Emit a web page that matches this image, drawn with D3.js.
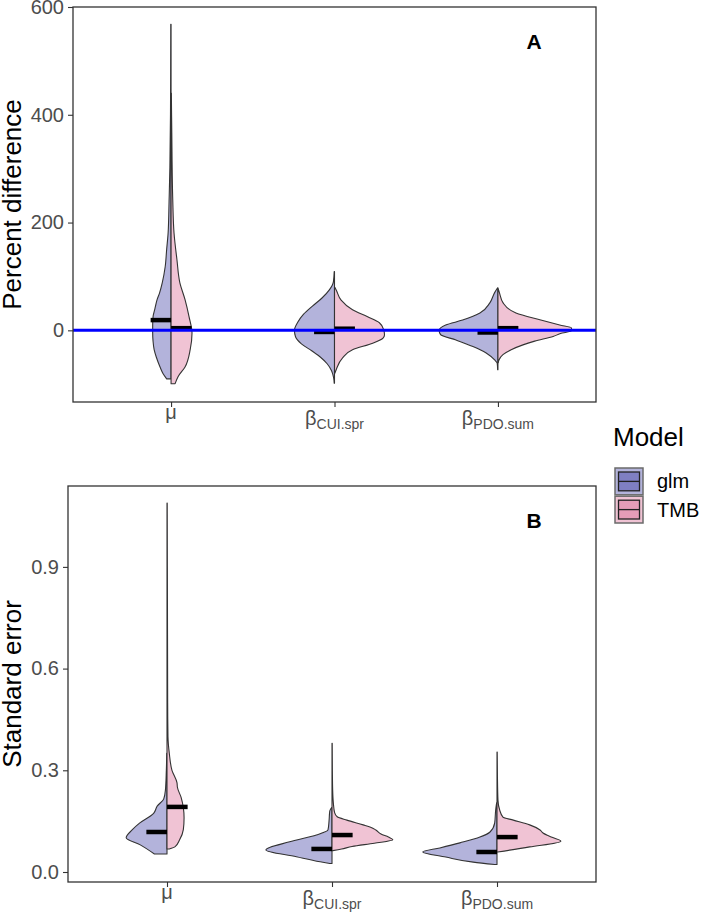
<!DOCTYPE html>
<html lang="en">
<head>
<meta charset="utf-8">
<title>Percent difference and standard error by model</title>
<script src="https://d3js.org/d3.v7.min.js"></script>
<style>
  body { margin: 0; background: #fff; }
  text { font-family: "Liberation Sans", Arial, sans-serif; }
</style>
</head>
<body>
<div id="chart"></div>
<script type="text/javascript">

var w = 701;
var h = 913;

var categories = ["mu", "cui", "pdo"];
var labelBase = ["\u03bc", "\u03b2", "\u03b2"];
var labelSub = ["", "CUI.spr", "PDO.sum"];
var models = ["glm", "TMB"];
var fills = ["#b3b3db", "#f0c3d4"];
var keyInner = ["#7f7fc2", "#e59db8"];

// violin outlines: [value, density relative to widest]
// panel A - percent difference
var pdMuGlm = [[-90, .06], [-80, .11], [-68, .15], [-50, .2], [-36, .23], [-20, .245], [-5, .25], [10, .25],
  [25, .245], [40, .22], [57, .19], [70, .155], [88, .12], [118, .08], [150, .06], [181, .04], [240, .027],
  [303, .016], [400, .008], [568, .004]];
var pdMuTmb = [[-99, .055], [-86, .095], [-68, .19], [-36, .26], [-5, .285], [25, .245], [57, .19], [88, .12],
  [131, .08], [181, .04], [242, .023], [366, .01], [440, .004]];
var pdCuiGlm = [[-98, .004], [-88, .012], [-75, .04], [-62, .1], [-50, .19], [-38, .31], [-25, .45], [-12, .53],
  [0, .545], [15, .5], [30, .42], [45, .3], [60, .17], [75, .07], [90, .015], [109, .004]];
var pdCuiTmb = [[-80, .004], [-73, .023], [-51, .11], [-36, .245], [-24, .52], [-14.5, .66], [-8, .68], [1, .67],
  [14, .61], [25, .45], [38, .245], [56, .09], [75, .023], [80, .004]];
var pdPdoGlm = [[-73, .004], [-61, .01], [-55, .045], [-42, .16], [-30, .34], [-18, .57], [-8, .78], [0, .8],
  [10, .71], [19, .48], [32, .245], [51, .11], [70, .045], [79, .004]];
var pdPdoTmb = [[-60, .004], [-55, .014], [-45, .068], [-36, .18], [-27, .34], [-20, .5], [-11.5, .75], [-6, .85],
  [-1, 1], [4.6, 1], [10, .84], [19.5, .57], [32, .245], [51, .07], [70, .02], [77, .004]];

// panel B - standard error
var seMuGlm = [[.053, .17], [.080, .36], [.101, .55], [.124, .47], [.144, .37], [.173, .18], [.195, .13],
  [.215, .045], [.24, .022], [.30, .009], [.35, .003]];
var seMuTmb = [[.068, .03], [.075, .11], [.095, .17], [.125, .22], [.16, .23], [.19, .22], [.22, .19], [.25, .14],
  [.263, .135], [.30, .067], [.35, .031], [.40, .013], [.5, .009], [.7, .007], [.9, .005], [1.088, .003]];
var seCuiGlm = [[.025, .03], [.030, .16], [.045, .48], [.065, .89], [.089, .57], [.109, .21], [.124, .054],
  [.15, .04], [.18, .03], [.19, .005]];
var seCuiTmb = [[.063, .01], [.068, .13], [.075, .27], [.085, .57], [.095, .82], [.103, .76], [.112, .66],
  [.124, .59], [.132, .52], [.139, .42], [.153, .2], [.163, .07], [.175, .035], [.204, .018], [.242, .009],
  [.3, .005], [.38, .003]];
var sePdoGlm = [[.022, .03], [.029, .32], [.044, .69], [.059, 1], [.071, .77], [.086, .5], [.103, .23],
  [.118, .094], [.145, .031], [.183, .018], [.204, .005]];
var sePdoTmb = [[.059, .01], [.074, .44], [.091, .86], [.103, .73], [.115, .62], [.124, .58], [.139, .44],
  [.153, .22], [.162, .08], [.183, .036], [.212, .013], [.28, .006], [.354, .003]];

var pdMeansGlm = [19, -3, -4];
var pdMeansTmb = [4, 3, 4];
var seMeansGlm = [0.118, 0.068, 0.059];
var seMeansTmb = [0.192, 0.109, 0.103];

var pdTicks = [0, 200, 400, 600];
var seTicks = [0, 0.3, 0.6, 0.9];

var svg = d3.select("#chart")
  .append("svg")
  .attr("width", w)
  .attr("height", h);

drawPanel({
  left: 73, right: 596, top: 7, bottom: 402,
  domain: [-133, 600], ticks: pdTicks, fmt: d3.format("d"),
  violins: [[pdMuGlm, pdCuiGlm, pdPdoGlm], [pdMuTmb, pdCuiTmb, pdPdoTmb]],
  means: [pdMeansGlm, pdMeansTmb],
  title: "Percent difference", tag: "A", hline: true
});
drawPanel({
  left: 68, right: 596, top: 486, bottom: 882,
  domain: [-0.0295, 1.1386], ticks: seTicks, fmt: d3.format(".1f"),
  violins: [[seMuGlm, seCuiGlm, sePdoGlm], [seMuTmb, seCuiTmb, sePdoTmb]],
  means: [seMeansGlm, seMeansTmb],
  title: "Standard error", tag: "B", hline: false
});
drawLegend();

function drawPanel(p) {
  var g = svg.append("g");
  var x = d3.scalePoint().domain(categories).range([p.left, p.right]).padding(0.6);
  var y = d3.scaleLinear().domain(p.domain).range([p.bottom, p.top]);
  var step = x.step();
  var wScale = d3.scaleLinear().domain([0, 1]).range([0, 0.45 * step]);

  // split violins
  models.forEach(function(m, j) {
    var side = j == 0 ? -1 : 1;
    categories.forEach(function(c, i) {
      var area = d3.area()
        .y(function(d) { return y(d[0]); })
        .x0(x(c))
        .x1(function(d) { return x(c) + side * wScale(d[1]); })
        .curve(d3.curveMonotoneY);
      g.append("path")
        .datum(p.violins[j][i])
        .attr("d", area)
        .attr("fill", fills[j])
        .attr("stroke", "#333")
        .attr("stroke-width", 1.1)
        .attr("stroke-linejoin", "round");
    });
  });

  // mean bars
  models.forEach(function(m, j) {
    var side = j == 0 ? -1 : 1;
    g.selectAll(null)
      .data(p.means[j])
      .enter()
      .append("line")
      .attr("x1", function(d, i) { return x(categories[i]); })
      .attr("x2", function(d, i) { return x(categories[i]) + side * 0.125 * step; })
      .attr("y1", function(d) { return y(d); })
      .attr("y2", function(d) { return y(d); })
      .attr("stroke", "#000")
      .attr("stroke-width", 4.5);
  });

  if (p.hline) {
    g.append("line")
      .attr("x1", p.left).attr("x2", p.right)
      .attr("y1", y(0)).attr("y2", y(0))
      .attr("stroke", "#0000ff")
      .attr("stroke-width", 3);
  }

  // frame
  g.append("rect")
    .attr("x", p.left).attr("y", p.top)
    .attr("width", p.right - p.left).attr("height", p.bottom - p.top)
    .attr("fill", "none")
    .attr("stroke", "#333")
    .attr("stroke-width", 1.3);

  // y axis
  var ya = g.append("g")
    .attr("transform", "translate(" + p.left + ",0)")
    .call(d3.axisLeft(y).tickValues(p.ticks).tickFormat(p.fmt).tickSize(5).tickPadding(4));
  ya.select(".domain").remove();
  ya.selectAll(".tick line").attr("stroke", "#333").attr("stroke-width", 1.1);
  ya.selectAll(".tick text")
    .attr("fill", "#4d4d4d")
    .style("font-size", "20px")
    .style("font-family", "'Liberation Sans', Arial, sans-serif");

  // x axis
  var xa = g.append("g")
    .attr("transform", "translate(0," + p.bottom + ")")
    .call(d3.axisBottom(x).tickSize(5).tickFormat(""));
  xa.select(".domain").remove();
  xa.selectAll(".tick line").attr("stroke", "#333").attr("stroke-width", 1.1);

  categories.forEach(function(c, i) {
    var t = g.append("text")
      .attr("x", x(c))
      .attr("y", p.bottom + (labelSub[i] ? 23 : 17))
      .attr("text-anchor", "middle")
      .attr("fill", "#4d4d4d")
      .style("font-size", "20px");
    t.append("tspan").text(labelBase[i]);
    if (labelSub[i]) {
      t.append("tspan")
        .attr("dy", 4)
        .style("font-size", "14px")
        .text(labelSub[i]);
    }
  });

  // axis title
  g.append("text")
    .attr("transform", "translate(21," + ((p.top + p.bottom) / 2) + ") rotate(-90)")
    .attr("text-anchor", "middle")
    .attr("fill", "#000")
    .style("font-size", "26px")
    .text(p.title);

  // panel tag
  g.append("text")
    .attr("x", 534)
    .attr("y", p.top + 41.5)
    .attr("text-anchor", "middle")
    .attr("fill", "#000")
    .style("font-size", "21px")
    .style("font-weight", "bold")
    .text(p.tag);
}

function drawLegend() {
  var lg = svg.append("g");
  lg.append("text")
    .attr("x", 613)
    .attr("y", 446)
    .attr("fill", "#000")
    .style("font-size", "26px")
    .text("Model");

  var keyY = d3.scaleBand().domain(models).range([468, 523]).paddingInner(0.05);

  models.forEach(function(m, j) {
    var y0 = keyY(m);
    var bh = keyY.bandwidth();
    lg.append("rect")
      .attr("x", 615).attr("y", y0)
      .attr("width", 28).attr("height", bh)
      .attr("fill", fills[j])
      .attr("stroke", "#6b6b6b")
      .attr("stroke-width", 1.5);
    lg.append("rect")
      .attr("x", 618.5).attr("y", y0 + 4)
      .attr("width", 21).attr("height", bh - 8)
      .attr("fill", keyInner[j])
      .attr("stroke", "#222")
      .attr("stroke-width", 1.3);
    lg.append("line")
      .attr("x1", 618.5).attr("x2", 639.5)
      .attr("y1", y0 + bh / 2).attr("y2", y0 + bh / 2)
      .attr("stroke", "#222")
      .attr("stroke-width", 1.3);
    lg.append("text")
      .attr("x", 657)
      .attr("y", y0 + bh / 2 + 7)
      .attr("fill", "#000")
      .style("font-size", "20px")
      .text(m);
  });
}
    </script>
</body>
</html>
